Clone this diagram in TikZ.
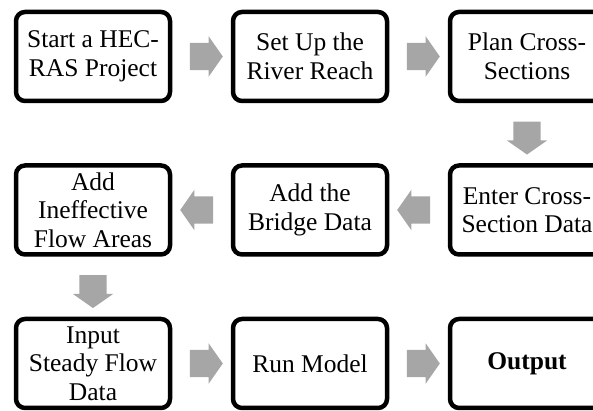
\documentclass[tikz,border=0pt]{standalone}
\usepackage{fontspec}
\setmainfont{Liberation Serif}
\usepackage{tikz}
\usetikzlibrary{positioning}
\usetikzlibrary{calc,shapes.arrows}

\definecolor{arrowgray}{HTML}{A6A6A6}

\tikzset{
	procbox/.style={draw, line width=4.5pt, rounded corners=9pt,
		minimum width=154pt, minimum height=89pt, inner sep=0pt,
		align=center, font=\fontsize{25.5}{28.5}\selectfont},
	flowarrow/.style={single arrow, fill=arrowgray, draw=none,
		minimum height=33pt, minimum width=40pt,
		inner xsep=0pt, inner ysep=13.5pt,
		single arrow head extend=6.5pt, single arrow tip angle=110},
	downarrow/.style={flowarrow, shape border rotate=270,
		inner xsep=13.5pt, inner ysep=0pt},
}

\begin{document}
\begin{tikzpicture}[x=1pt,y=1pt]
	
	% ------------------------------------------------
	% Page has the size of the original figure
	\useasboundingbox (0,0) rectangle (593,411);
	\clip (0,0) rectangle (593,411);
	
	% ------------------------------------------------
	% Process boxes
	\node[procbox] (Start) at (93,354.5) {Start a HEC-\\RAS Project};
	\node[procbox, right=58.5pt of Start] (Reach) {Set Up the\\River Reach};
	\node[procbox, right=58.5pt of Reach] (Plan) {Plan Cross-\\Sections};
	
	\node[procbox, below=60pt of Plan] (Enter) {Enter Cross-\\Section Data};
	\node[procbox, below=60pt of Reach] (Bridge) {Add the\\Bridge Data};
	\node[procbox, below=60pt of Start] (Ineff) {Add\\Ineffective\\Flow Areas};
	
	\node[procbox, below=60pt of Ineff] (Steady) {Input\\Steady Flow\\Data};
	\node[procbox, below=60pt of Bridge] (Run) {Run Model};
	\node[procbox, below=60pt of Enter] (Out) {\bfseries Output};
	
	% ----------------
	% Block arrows
	\node[flowarrow] (StartReach) at ($(Start.east)!0.5!(Reach.west)$) {};
	\node[flowarrow] (ReachPlan) at ($(Reach.east)!0.5!(Plan.west)$) {};
	\node[downarrow] (PlanEnter) at ($(Plan.south)!0.5!(Enter.north)$) {};
	\node[flowarrow, shape border rotate=180] (EnterBridge) at ($(Enter.west)!0.5!(Bridge.east)$) {};
	\node[flowarrow, shape border rotate=180] (BridgeIneff) at ($(Bridge.west)!0.5!(Ineff.east)$) {};
	\node[downarrow] (IneffSteady) at ($(Ineff.south)!0.5!(Steady.north)$) {};
	\node[flowarrow] (SteadyRun) at ($(Steady.east)!0.5!(Run.west)$) {};
	\node[flowarrow] (RunOut) at ($(Run.east)!0.5!(Out.west)$) {};
	
\end{tikzpicture}
\end{document}
